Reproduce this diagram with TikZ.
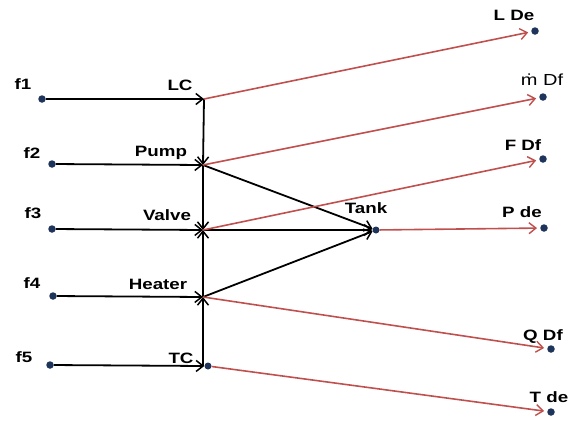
\documentclass[tikz,border=0pt]{standalone}
\usepackage{fontspec}
\setmainfont{Liberation Sans}
\usepackage{graphicx}
\usetikzlibrary{arrows.meta}
\definecolor{redline}{RGB}{192,80,77}
\definecolor{dotcol}{RGB}{30,52,90}
\newcommand{\lbltxt}[1]{\scalebox{1.25}[1]{#1}}
\begin{document}
\begin{tikzpicture}[x=1pt,y=-1pt,
  dot/.style={circle,fill=dotcol,inner sep=0pt,minimum size=7.5pt},
  lbl/.style={inner sep=0pt,font=\fontsize{15}{17}\selectfont\bfseries},
  blk/.style={draw=black,line width=1.8pt,-{Straight Barb[length=7pt,width=11pt,line width=1.5pt]}},
  red/.style={draw=redline,line width=1.6pt,-{Straight Barb[length=7pt,width=11pt,line width=1.4pt]}},
  vline/.style={draw=black,line width=1.8pt}]
\useasboundingbox (0,0) rectangle (574,421);
% input dots
\node[dot] (f1) at (42,99) {};
\node[dot] (f2) at (52,164) {};
\node[dot] (f3) at (52,229) {};
\node[dot] (f4) at (53,296) {};
\node[dot] (f5) at (50,365) {};
\node[lbl] (tf1) at (23,84) {\lbltxt{f1}};
\node[lbl] (tf2) at (32,153) {\lbltxt{f2}};
\node[lbl] (tf3) at (33,213) {\lbltxt{f3}};
\node[lbl] (tf4) at (32,283) {\lbltxt{f4}};
\node[lbl] (tf5) at (24,357) {\lbltxt{f5}};
% junctions
\coordinate (LC) at (204,99);
\coordinate (Pump) at (203,165);
\coordinate (Valve) at (203,230);
\coordinate (Heater) at (203,297);
\node[dot,minimum size=7pt] (TC) at (208,366) {};
\coordinate (TCv) at (203,366);
\node[dot,minimum size=7pt] (Tank) at (376,230) {};
\node[lbl] (tLC) at (180,85) {\lbltxt{LC}};
\node[lbl] (tPump) at (161,153) {\lbltxt{Pump}};
\node[lbl] (tValve) at (167,215) {\lbltxt{Valve}};
\node[lbl] (tHeater) at (158,284) {\lbltxt{Heater}};
\node[lbl] (tTC) at (181,358) {\lbltxt{TC}};
\node[lbl] (tTank) at (366,208) {\lbltxt{Tank}};
% output dots
\node[dot] (LDe) at (535,31) {};
\node[dot] (mDf) at (543,97) {};
\node[dot] (FDf) at (543,159) {};
\node[dot] (Pde) at (544,228) {};
\node[dot] (QDf) at (551,349) {};
\node[dot] (Tde) at (551,412) {};
\node[lbl] (tLDe) at (514,15) {\lbltxt{L De}};
\node[lbl,font=\fontsize{16}{18}\selectfont] (tmDf) at (542,80) {\lbltxt{\.m Df}};
\node[lbl] (tFDf) at (523,145) {\lbltxt{F Df}};
\node[lbl] (tPde) at (522,212) {\lbltxt{P de}};
\node[lbl] (tQDf) at (543,337) {\lbltxt{Q Df}};
\node[lbl] (tTde) at (549,397) {\lbltxt{T de}};
% black inputs
\draw[blk] (f1) -- (LC);
\draw[blk] (f2) -- (Pump);
\draw[blk] (f3) -- (Valve);
\draw[blk] (f4) -- (Heater);
\draw[blk] (f5) -- (TC.west);
% vertical chain
\draw[blk] (LC) -- (Pump);
\draw[blk] (Pump) -- (Valve);
\draw[blk] (Heater) -- (Valve);
\draw[blk] (TCv) -- (Heater);
% to tank
\draw[blk] (Pump) -- (Tank);
\draw[blk] (Valve) -- (Tank);
\draw[blk] (Heater) -- (Tank);
% red outputs
\draw[red,shorten >=3pt] (LC) -- (LDe);
\draw[red,shorten >=3pt] (Pump) -- (mDf);
\draw[red,shorten >=3pt] (Valve) -- (FDf);
\draw[red,shorten >=3pt] (Tank) -- (Pde);
\draw[red,shorten >=3pt] (Heater) -- (QDf);
\draw[red,shorten >=3pt] (TC) -- (Tde);
\end{tikzpicture}
\end{document}
